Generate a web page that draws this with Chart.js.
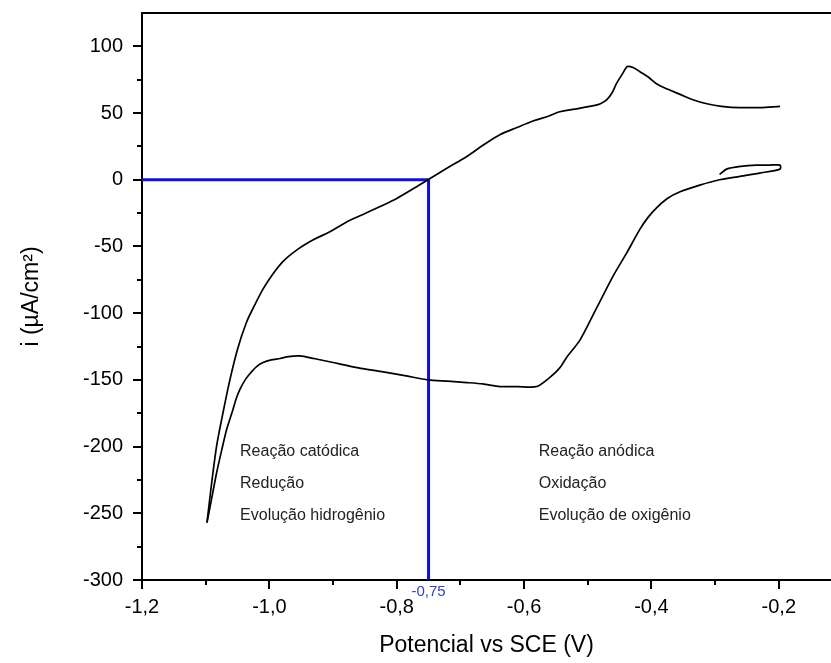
<!DOCTYPE html>
<html>
<head>
<meta charset="utf-8">
<script src="https://cdn.jsdelivr.net/npm/chart.js@4"></script>
<style>
  html, body { margin: 0; padding: 0; background: #fff; }
  canvas { display: block; }
</style>
</head>
<body>
<canvas id="cv" width="831" height="663"></canvas>
<script>
// Forward (anodic) sweep, -1.1 V up to -0.2 V
const FWD_X = [-1.098, -1.090, -1.083, -1.078, -1.070, -1.062, -1.050, -1.036, -1.022, -1.010,
  -0.995, -0.978, -0.955, -0.931, -0.905, -0.880, -0.853, -0.826, -0.800, -0.775,
  -0.751, -0.720, -0.690, -0.664, -0.638, -0.612, -0.586, -0.560, -0.544, -0.520,
  -0.497, -0.480, -0.470, -0.462, -0.455, -0.446, -0.437, -0.428, -0.418, -0.405,
  -0.392, -0.375, -0.355, -0.335, -0.313, -0.290, -0.261, -0.230, -0.198];
const FWD_Y = [-257, -225, -200, -187, -168, -150, -127, -107, -93, -82,
  -71, -61, -52, -45, -39, -32, -26, -20, -14, -7,
  0, 9, 17.5, 26, 33.7, 39, 44, 48, 51, 53,
  55, 57, 60, 65, 72, 79, 85, 84, 81, 77,
  72, 68, 64, 60, 57, 55, 54, 54, 55];

// Reverse (cathodic) sweep, small loop near -0.2 V then back to -1.1 V
const REV_X = [-0.293, -0.282, -0.260, -0.235, -0.215, -0.198, -0.198, -0.230, -0.261, -0.293,
  -0.324, -0.355, -0.375, -0.392, -0.405, -0.418, -0.439, -0.460, -0.486, -0.512,
  -0.533, -0.544, -0.559, -0.580, -0.610, -0.638, -0.665, -0.690, -0.720, -0.751,
  -0.785, -0.821, -0.860, -0.900, -0.930, -0.952, -0.970, -0.983, -0.997, -1.010,
  -1.020, -1.030, -1.038, -1.046, -1.052, -1.057, -1.067, -1.075, -1.083, -1.091, -1.098];
const REV_Y = [4, 8, 10, 11, 11, 11, 8, 5, 2.5, 0,
  -4, -9, -14, -21, -28, -37, -55, -72, -96, -120,
  -133, -141, -148, -155, -155, -155, -153, -152, -151, -150,
  -147, -144, -141, -137, -134, -132, -132.5, -134, -135, -137,
  -140, -145, -150, -157, -164, -172, -187, -203, -220, -240, -257];

// Corrosion potential marker
const MARK_X = -0.75;
const MARK_Y = 0;

const X_TICKS = [-1.2, -1.0, -0.8, -0.6, -0.4, -0.2];
const X_MINOR = [-1.1, -0.9, -0.7, -0.5, -0.3];
const Y_TICKS = [100, 50, 0, -50, -100, -150, -200, -250, -300];
const Y_MINOR = [75, 25, -25, -75, -125, -175, -225, -275];

const CATHODIC_LABELS = ["Reação catódica", "Redução", "Evolução hidrogênio"];
const ANODIC_LABELS = ["Reação anódica", "Oxidação", "Evolução de oxigênio"];

const FONT = "'Liberation Sans', Arial, sans-serif";
const BLUE = "#1212cc";

const toPoints = (xs, ys) => xs.map((x, i) => ({x, y: ys[i]}));
const comma = (v, digits) => v.toFixed(digits).replace(".", ",");

// Minor ticks, the top frame line, the marker value and the two text blocks.
const decorPlugin = {
  id: "decor",
  afterDraw(chart) {
    const {ctx, chartArea, scales} = chart;
    const {x, y} = scales;
    ctx.save();
    ctx.strokeStyle = "#000";
    ctx.lineWidth = 2;
    ctx.beginPath();
    ctx.moveTo(chartArea.left - 1, chartArea.top);
    ctx.lineTo(chartArea.right, chartArea.top);
    ctx.stroke();

    ctx.beginPath();
    for (const v of X_MINOR) {
      const px = Math.round(x.getPixelForValue(v));
      ctx.moveTo(px, chartArea.bottom);
      ctx.lineTo(px, chartArea.bottom + 5);
    }
    for (const v of Y_MINOR) {
      const py = Math.round(y.getPixelForValue(v));
      ctx.moveTo(chartArea.left, py);
      ctx.lineTo(chartArea.left - 5, py);
    }
    ctx.stroke();

    ctx.fillStyle = "#3344bb";
    ctx.font = `15px ${FONT}`;
    ctx.textAlign = "center";
    ctx.textBaseline = "middle";
    ctx.fillText(comma(MARK_X, 2), x.getPixelForValue(MARK_X), chartArea.bottom + 12);

    ctx.fillStyle = "#222";
    ctx.font = `16px ${FONT}`;
    ctx.textAlign = "left";
    const rows = [-204, -228, -252];
    CATHODIC_LABELS.forEach((t, i) => ctx.fillText(t, x.getPixelForValue(-1.046), y.getPixelForValue(rows[i])));
    ANODIC_LABELS.forEach((t, i) => ctx.fillText(t, x.getPixelForValue(-0.577), y.getPixelForValue(rows[i])));
    ctx.restore();
  },
};

new Chart(document.getElementById("cv"), {
  type: "scatter",
  data: {
    datasets: [
      {data: toPoints([-1.2, MARK_X], [MARK_Y, MARK_Y]), borderColor: BLUE, borderWidth: 3, order: 2},
      {data: toPoints([MARK_X, MARK_X], [MARK_Y, -300]), borderColor: BLUE, borderWidth: 3, order: 2},
      {data: toPoints(FWD_X, FWD_Y), borderColor: "#000", borderWidth: 1.7, cubicInterpolationMode: "monotone", order: 1},
      {data: toPoints(REV_X, REV_Y), borderColor: "#000", borderWidth: 1.7, tension: 0.25, order: 1},
    ],
  },
  options: {
    responsive: false,
    animation: false,
    showLine: true,
    elements: {point: {radius: 0, hoverRadius: 0}, line: {tension: 0}},
    layout: {padding: {top: 13, left: 0, right: 0, bottom: 0}},
    plugins: {legend: {display: false}, tooltip: {enabled: false}},
    scales: {
      x: {
        type: "linear",
        min: -1.2,
        max: -0.118,
        afterBuildTicks: (scale) => { scale.ticks = X_TICKS.map((value) => ({value})); },
        afterFit: (scale) => { scale.height = 83; scale.paddingLeft = 0; scale.paddingRight = 0; },
        border: {display: true, color: "#000", width: 2},
        grid: {display: true, drawOnChartArea: false, drawTicks: true, tickLength: 9, color: "#000", lineWidth: 2},
        ticks: {
          color: "#000",
          font: {family: FONT, size: 20},
          padding: 6,
          maxRotation: 0,
          callback: (v) => comma(v, 1),
        },
        title: {display: true, text: "Potencial vs SCE (V)", color: "#000", font: {family: FONT, size: 23}, padding: {bottom: 4}},
      },
      y: {
        type: "linear",
        min: -300,
        max: 125,
        afterBuildTicks: (scale) => { scale.ticks = Y_TICKS.map((value) => ({value})); },
        afterFit: (scale) => { scale.width = 142; scale.paddingTop = 0; scale.paddingBottom = 0; },
        border: {display: true, color: "#000", width: 2},
        grid: {display: true, drawOnChartArea: false, drawTicks: true, tickLength: 9, color: "#000", lineWidth: 2},
        ticks: {
          color: "#000",
          font: {family: FONT, size: 20},
          padding: 10,
          callback: (v) => String(v),
        },
        title: {display: true, text: "i (µA/cm²)", color: "#000", font: {family: FONT, size: 23}, padding: {top: 18}},
      },
    },
  },
  plugins: [decorPlugin],
});
</script>
</body>
</html>
